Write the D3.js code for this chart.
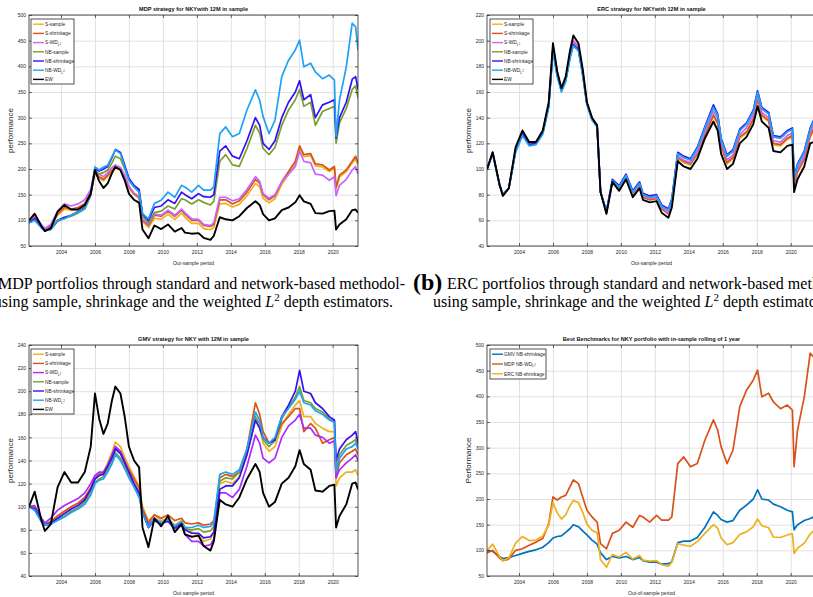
<!DOCTYPE html>
<html>
<head>
<meta charset="utf-8">
<script src="https://cdn.jsdelivr.net/npm/d3@7"></script>
<style>
  body { margin: 0; background: #fff; }
  svg { display: block; }
</style>
</head>
<body>
<div id="chart"></div>
<script>
// sampling dates (decimal years) shared by every series
const dates = [2002.12, 2002.45, 2002.85, 2003.05, 2003.4, 2003.8, 2004.2, 2004.6, 2005.0, 2005.4,
  2005.75, 2006.0, 2006.25, 2006.5, 2006.75, 2007.0, 2007.2, 2007.5, 2007.75, 2008.0,
  2008.3, 2008.6, 2008.8, 2009.15, 2009.5, 2009.9, 2010.3, 2010.7, 2011.1, 2011.3,
  2011.7, 2012.1, 2012.4, 2012.8, 2013.0, 2013.35, 2013.7, 2014.1, 2014.5, 2014.95,
  2015.45, 2015.7, 2015.9, 2016.25, 2016.6, 2017.0, 2017.4, 2017.8, 2018.05, 2018.3,
  2018.7, 2018.98, 2019.4, 2019.8, 2020.1, 2020.2, 2020.4, 2020.8, 2021.15, 2021.35, 2021.49];

const yearTicks = [2004, 2006, 2008, 2010, 2012, 2014, 2016, 2018, 2020];

// equally weighted benchmark (same in MDP, ERC, GMV panels)
const ew = [100, 113, 88, 79, 85, 117, 130, 121, 121, 130,
  152, 198, 176, 163, 172, 192, 204, 198, 178, 152,
  140, 134, 82, 65, 90, 83, 92, 78, 85, 76,
  74, 75, 66, 62, 70, 106, 102, 100, 108, 124,
  137, 130, 112, 100, 104, 120, 125, 135, 149, 137,
  132, 114, 113, 118, 119, 82, 92, 102, 120, 121, 115];

// MDP
const mdpSSample = [96, 107, 89, 82, 87, 110, 122, 120, 122, 130,
  152, 192, 182, 177, 185, 195, 202, 198, 183, 163,
  150, 143, 98, 86, 104, 102, 112, 102, 114, 106,
  94, 94, 84, 82, 86, 132, 133, 126, 131, 148,
  172, 165, 143, 134, 142, 170, 190, 210, 240, 224,
  226, 206, 204, 195, 202, 160, 184, 195, 212, 220, 207];
const mdpSShrink = [97, 108, 90, 82, 88, 112, 125, 122, 125, 133,
  155, 195, 185, 180, 188, 198, 205, 200, 185, 165,
  152, 145, 100, 90, 110, 108, 118, 108, 120, 112,
  100, 100, 90, 88, 92, 140, 140, 132, 138, 155,
  180, 172, 150, 140, 148, 175, 195, 215, 245, 228,
  230, 210, 208, 198, 205, 165, 188, 198, 215, 225, 212];
const mdpSWD = [98, 110, 92, 84, 92, 118, 132, 128, 132, 140,
  160, 198, 190, 185, 193, 203, 208, 203, 188, 167,
  153, 147, 102, 92, 112, 110, 120, 110, 122, 115,
  103, 102, 92, 90, 95, 145, 145, 138, 142, 160,
  185, 176, 152, 143, 150, 175, 190, 205, 235, 215,
  212, 190, 188, 178, 185, 148, 168, 180, 198, 205, 190];
const mdpNBSample = [95, 102, 87, 80, 82, 98, 104, 108, 114, 122,
  148, 195, 190, 193, 198, 212, 225, 220, 200, 178,
  165, 156, 108, 95, 115, 118, 128, 122, 142, 140,
  132, 140, 135, 130, 137, 215, 228, 208, 205, 240,
  285, 270, 240, 228, 242, 285, 315, 335, 355, 322,
  330, 285, 312, 318, 322, 250, 290, 318, 355, 362, 338];
const mdpNBShrink = [95, 103, 88, 80, 83, 100, 106, 110, 117, 125,
  150, 200, 196, 200, 205, 222, 238, 232, 208, 182,
  168, 160, 112, 100, 125, 128, 140, 133, 155, 150,
  142, 152, 146, 145, 150, 235, 245, 225, 220, 255,
  300, 285, 250, 238, 255, 300, 330, 350, 372, 335,
  345, 300, 325, 330, 335, 260, 300, 330, 375, 380, 355];
const mdpNBWD = [95, 100, 85, 80, 83, 100, 103, 110, 116, 123,
  152, 204, 198, 204, 207, 224, 237, 230, 204, 178,
  165, 155, 113, 103, 133, 139, 155, 145, 168, 165,
  155, 168, 159, 159, 165, 269, 282, 263, 269, 315,
  354, 334, 302, 269, 295, 380, 412, 432, 451, 399,
  406, 389, 376, 383, 373, 263, 334, 399, 484, 477, 432];

// ERC
const ercSSample = [100, 113, 88, 80, 85, 115, 128, 120, 121, 129,
  150, 195, 175, 162, 170, 189, 200, 195, 176, 151,
  139, 133, 82, 66, 90, 84, 93, 80, 87, 78,
  76, 77, 69, 65, 73, 108, 105, 103, 111, 126,
  141, 135, 117, 104, 108, 124, 128, 138, 154, 141,
  137, 119, 118, 123, 125, 87, 97, 107, 125, 130, 121];
const ercSShrink = [100, 113, 88, 80, 85, 115, 128, 120, 121, 129,
  150, 195, 175, 162, 170, 189, 200, 195, 176, 151,
  139, 133, 82, 66, 90, 84, 93, 80, 87, 78,
  76, 77, 69, 65, 73, 109, 106, 104, 112, 127,
  142, 136, 118, 105, 109, 125, 129, 139, 155, 142,
  138, 120, 119, 124, 126, 88, 98, 108, 126, 131, 122];
const ercSWD = [100, 113, 88, 80, 85, 115, 128, 120, 120, 129,
  150, 195, 174, 162, 170, 189, 200, 195, 176, 151,
  139, 133, 82, 66, 90, 85, 94, 81, 88, 79,
  77, 78, 70, 66, 74, 110, 107, 105, 113, 129,
  145, 139, 120, 107, 111, 127, 132, 142, 157, 144,
  140, 122, 121, 126, 128, 90, 100, 110, 128, 134, 124];
const ercNBSample = [100, 112, 88, 80, 85, 114, 127, 119, 120, 128,
  149, 193, 173, 161, 169, 187, 197, 193, 174, 151,
  139, 133, 82, 67, 91, 86, 95, 82, 89, 80,
  78, 79, 71, 68, 76, 112, 109, 107, 116, 132,
  148, 142, 123, 110, 114, 130, 135, 145, 160, 147,
  143, 125, 124, 129, 131, 93, 103, 113, 131, 137, 127];
const ercNBShrink = [100, 112, 88, 80, 85, 114, 127, 119, 120, 128,
  149, 193, 173, 161, 169, 187, 197, 193, 174, 151,
  139, 134, 82, 67, 92, 87, 96, 83, 90, 81,
  79, 80, 72, 69, 77, 113, 110, 108, 117, 133,
  150, 143, 124, 111, 115, 131, 136, 146, 161, 148,
  144, 126, 125, 130, 132, 94, 104, 114, 132, 138, 128];
const ercNBWD = [100, 112, 88, 80, 85, 113, 126, 118, 119, 127,
  148, 192, 172, 160, 168, 186, 196, 192, 173, 150,
  138, 133, 82, 67, 91, 86, 95, 82, 89, 80,
  78, 79, 71, 68, 76, 112, 109, 107, 116, 132,
  148, 142, 123, 110, 114, 130, 135, 145, 160, 147,
  143, 125, 124, 129, 131, 93, 103, 113, 131, 137, 127];

// GMV
const gmvSSample = [100, 99, 89, 85, 87, 92, 96, 100, 103, 108,
  117, 125, 129, 130, 138, 147, 156, 152, 143, 135,
  126, 118, 100, 88, 93, 88, 90, 84, 88, 82,
  78, 75, 70, 72, 78, 120, 122, 120, 126, 145,
  175, 168, 155, 148, 152, 170, 180, 188, 192, 178,
  178, 172, 168, 165, 165, 118, 125, 130, 130, 132, 127];
const gmvSShrink = [100, 99, 89, 85, 87, 92, 96, 100, 103, 108,
  116, 124, 128, 129, 136, 144, 152, 148, 140, 132,
  124, 116, 98, 86, 93, 90, 93, 88, 90, 86,
  85, 86, 84, 85, 88, 125, 128, 126, 130, 150,
  190, 180, 165, 155, 158, 172, 178, 185, 185, 165,
  172, 168, 155, 158, 160, 125, 138, 145, 148, 150, 145];
const gmvSWD = [100, 101, 90, 86, 90, 97, 101, 104, 107, 112,
  120, 127, 130, 130, 136, 145, 152, 148, 139, 130,
  120, 112, 95, 84, 90, 86, 87, 81, 84, 76,
  70, 70, 66, 67, 72, 112, 112, 108, 115, 135,
  162, 155, 142, 138, 142, 160, 170, 175, 180, 168,
  168, 162, 160, 155, 157, 125, 132, 138, 142, 145, 140];
const gmvNBSample = [100, 97, 87, 84, 85, 89, 92, 96, 99, 104,
  112, 121, 124, 126, 132, 139, 147, 142, 135, 127,
  118, 110, 95, 82, 89, 86, 89, 83, 87, 81,
  80, 81, 78, 79, 83, 122, 125, 124, 130, 148,
  178, 172, 158, 152, 157, 176, 186, 195, 204, 192,
  190, 185, 182, 176, 174, 135, 145, 153, 156, 158, 152];
const gmvNBShrink = [100, 98, 88, 84, 86, 90, 94, 98, 101, 106,
  115, 124, 127, 128, 135, 142, 150, 146, 138, 130,
  120, 112, 95, 82, 88, 85, 88, 82, 86, 80,
  77, 77, 73, 74, 78, 115, 118, 118, 125, 145,
  175, 168, 160, 155, 158, 178, 188, 200, 218, 200,
  198, 190, 185, 178, 175, 140, 150, 158, 162, 165, 155];
const gmvNBWD = [100, 97, 87, 84, 85, 88, 91, 95, 98, 102,
  110, 120, 123, 124, 130, 137, 145, 140, 133, 125,
  117, 108, 95, 82, 90, 86, 89, 83, 87, 82,
  82, 84, 82, 83, 86, 128, 130, 128, 132, 150,
  182, 175, 160, 155, 160, 178, 185, 193, 200, 190,
  188, 183, 180, 175, 173, 130, 142, 150, 152, 155, 150];

const seriesNames = ['S-sample', 'S-shrinkage', 'S-WD_L2', 'NB-sample', 'NB-shrinkage', 'NB-WD_L2', 'EW'];
const bestNames = ['GMV NB-shrinkage', 'MDP NB-WD_L2', 'ERC NB-shrinkage'];

const colors = {
  ssample: '#edb120', sshrink: '#d95319', swd: '#c766ff', swdGmv: '#a92bff',
  nbsample: '#77a02c', nbshrink: '#3410f5', nbwd: '#1fa2f4', ew: '#000000',
  gmv: '#0072bd', mdp: '#d95319', erc: '#edb120'
};

const xDomain = [2002.115, 2021.49];
const fontSans = '"Liberation Sans", Arial, Helvetica, sans-serif';
const ink = '#262626';

const svg = d3.select('#chart').append('svg')
  .attr('width', 813)
  .attr('height', 597)
  .attr('font-family', fontSans);

svg.append('rect').attr('width', 813).attr('height', 597).attr('fill', '#fff');

function legendLabel(sel, name, size) {
  if (name.endsWith('_L2')) {
    sel.append('tspan').text(name.slice(0, -3));
    sel.append('tspan').attr('dy', size * 0.35).attr('font-size', size * 0.75).text('L');
    sel.append('tspan').attr('dy', -size * 0.25).attr('font-size', size * 0.55).text('2');
  } else {
    sel.text(name);
  }
}

const panels = [
  {
    id: 'a', left: 29, top: 15, width: 329, height: 231,
    yMin: 50, yMax: 500, yStep: 50,
    title: 'MDP strategy for NKYwith 12M in sample',
    ylabel: 'performance', xlabel: 'Out-sample period',
    legend: { x: 31, y: 19, w: 43, h: 65, rows: 9.2 },
    series: [
      [seriesNames[0], mdpSSample, colors.ssample],
      [seriesNames[1], mdpSShrink, colors.sshrink],
      [seriesNames[2], mdpSWD, colors.swd],
      [seriesNames[3], mdpNBSample, colors.nbsample],
      [seriesNames[4], mdpNBShrink, colors.nbshrink],
      [seriesNames[5], mdpNBWD, colors.nbwd],
      [seriesNames[6], ew, colors.ew]
    ]
  },
  {
    id: 'b', left: 487, top: 15, width: 329, height: 231,
    yMin: 40, yMax: 220, yStep: 20,
    title: 'ERC strategy for NKYwith 12M in sample',
    ylabel: 'performance', xlabel: 'Out-sample period',
    legend: { x: 490, y: 19, w: 43, h: 65, rows: 9.2 },
    series: [
      [seriesNames[0], ercSSample, colors.ssample],
      [seriesNames[1], ercSShrink, colors.sshrink],
      [seriesNames[2], ercSWD, colors.swd],
      [seriesNames[3], ercNBSample, colors.nbsample],
      [seriesNames[4], ercNBShrink, colors.nbshrink],
      [seriesNames[5], ercNBWD, colors.nbwd],
      [seriesNames[6], ew, colors.ew]
    ]
  },
  {
    id: 'c', left: 29, top: 345, width: 329, height: 231,
    yMin: 40, yMax: 240, yStep: 20,
    title: 'GMV strategy for NKY with 12M in sample',
    ylabel: 'performance', xlabel: 'Out-sample period',
    legend: { x: 31, y: 349, w: 43, h: 65, rows: 9.2 },
    series: [
      [seriesNames[0], gmvSSample, colors.ssample],
      [seriesNames[1], gmvSShrink, colors.sshrink],
      [seriesNames[2], gmvSWD, colors.swdGmv],
      [seriesNames[3], gmvNBSample, colors.nbsample],
      [seriesNames[4], gmvNBShrink, colors.nbshrink],
      [seriesNames[5], gmvNBWD, colors.nbwd],
      [seriesNames[6], ew, colors.ew]
    ]
  },
  {
    id: 'd', left: 487, top: 345, width: 329, height: 231,
    yMin: 50, yMax: 500, yStep: 50,
    title: 'Best Benchmarks for NKY portfolio with in-sample rolling of 1 year',
    ylabel: 'Performance', xlabel: 'Out-of-sample period',
    legend: { x: 490, y: 349, w: 56, h: 30, rows: 9.8 },
    series: [
      [bestNames[0], gmvNBShrink, colors.gmv],
      [bestNames[1], mdpNBWD, colors.mdp],
      [bestNames[2], ercNBShrink, colors.erc]
    ]
  }
];

function drawPanel(p) {
  const x = d3.scaleLinear().domain(xDomain).range([p.left, p.left + p.width]);
  const y = d3.scaleLinear().domain([p.yMin, p.yMax]).range([p.top + p.height, p.top]);
  const yTicks = d3.range(p.yMin, p.yMax + 1, p.yStep);
  const bottom = p.top + p.height;
  const right = p.left + p.width;

  const g = svg.append('g');

  // grid
  g.append('g')
    .attr('transform', `translate(0,${bottom})`)
    .call(d3.axisBottom(x).tickValues(yearTicks).tickSize(-p.height).tickFormat(''))
    .call(s => s.select('.domain').remove())
    .selectAll('line').attr('stroke', '#dedede').attr('stroke-width', 0.9);
  g.append('g')
    .attr('transform', `translate(${p.left},0)`)
    .call(d3.axisLeft(y).tickValues(yTicks).tickSize(-p.width).tickFormat(''))
    .call(s => s.select('.domain').remove())
    .selectAll('line').attr('stroke', '#dedede').attr('stroke-width', 0.9);

  // series
  svg.append('clipPath').attr('id', 'clip-' + p.id)
    .append('rect').attr('x', p.left).attr('y', p.top).attr('width', p.width).attr('height', p.height);

  const line = d3.line()
    .x((d, i) => x(dates[i]))
    .y(d => y(d));

  g.append('g').attr('clip-path', `url(#clip-${p.id})`)
    .selectAll('path')
    .data(p.series)
    .join('path')
    .attr('d', d => line(d[1]))
    .attr('fill', 'none')
    .attr('stroke', d => d[2])
    .attr('stroke-width', d => d[0] === 'EW' ? 1.9 : 1.7)
    .attr('stroke-linejoin', 'round');

  // axes with inward ticks
  const tick = 3;
  const xb = g.append('g').attr('transform', `translate(0,${bottom})`)
    .call(d3.axisBottom(x).tickValues(yearTicks).tickSize(-tick).tickPadding(4).tickFormat(d3.format('d')));
  const xt = g.append('g').attr('transform', `translate(0,${p.top})`)
    .call(d3.axisTop(x).tickValues(yearTicks).tickSize(-tick).tickFormat(''));
  const yl = g.append('g').attr('transform', `translate(${p.left},0)`)
    .call(d3.axisLeft(y).tickValues(yTicks).tickSize(-tick).tickPadding(3));
  const yr = g.append('g').attr('transform', `translate(${right},0)`)
    .call(d3.axisRight(y).tickValues(yTicks).tickSize(-tick).tickFormat(''));
  [xb, xt, yl, yr].forEach(a => {
    a.select('.domain').remove();
    a.selectAll('line').attr('stroke', ink).attr('stroke-width', 0.7);
    a.selectAll('text').attr('font-size', 5).attr('fill', ink).attr('font-family', fontSans);
  });

  g.append('rect')
    .attr('x', p.left).attr('y', p.top)
    .attr('width', p.width).attr('height', p.height)
    .attr('fill', 'none').attr('stroke', ink).attr('stroke-width', 0.8);

  // title and labels
  g.append('text')
    .attr('x', p.left + p.width / 2).attr('y', p.top - 4)
    .attr('text-anchor', 'middle').attr('font-size', 5.6).attr('font-weight', 'bold')
    .attr('fill', '#111').text(p.title);
  g.append('text')
    .attr('x', p.left + p.width / 2).attr('y', bottom + 19)
    .attr('text-anchor', 'middle').attr('font-size', 5).attr('fill', ink)
    .text(p.xlabel);
  g.append('text')
    .attr('transform', `translate(${p.left - 16},${p.top + p.height / 2}) rotate(-90)`)
    .attr('text-anchor', 'middle').attr('font-size', 8).attr('fill', ink)
    .text(p.ylabel);

  // legend
  const L = p.legend;
  const lg = g.append('g');
  lg.append('rect')
    .attr('x', L.x).attr('y', L.y).attr('width', L.w).attr('height', L.h)
    .attr('fill', '#fff').attr('stroke', ink).attr('stroke-width', 0.8);
  const rows = lg.selectAll('.row').data(p.series).join('g').attr('class', 'row')
    .attr('transform', (d, i) => `translate(${L.x},${L.y + 5.2 + i * L.rows})`);
  rows.append('line')
    .attr('x1', 2).attr('x2', 13).attr('y1', 0).attr('y2', 0)
    .attr('stroke', d => d[2]).attr('stroke-width', 1.4);
  rows.append('text')
    .attr('x', 14).attr('y', 1.7)
    .attr('font-size', 4.8).attr('fill', ink)
    .each(function (d) { legendLabel(d3.select(this), d[0], 4.8); });
}

panels.forEach(drawPanel);

// sub-figure captions (cropped at the page edges, as in the source)
const serif = '"Liberation Serif", "Times New Roman", Times, serif';
function captionLine2(x, anchor) {
  const t = svg.append('text')
    .attr('x', x).attr('y', 307).attr('text-anchor', anchor)
    .attr('font-family', serif).attr('font-size', 16).attr('fill', '#000');
  t.append('tspan').text('using sample, shrinkage and the weighted ');
  t.append('tspan').attr('font-style', 'italic').text('L');
  t.append('tspan').attr('dy', -6).attr('font-size', 11).text('2');
  t.append('tspan').attr('dy', 6).text(' depth estimators.');
}

svg.append('text')
  .attr('x', -2).attr('y', 289)
  .attr('font-family', serif).attr('font-size', 16)
  .attr('textLength', 407).attr('lengthAdjust', 'spacing')
  .text('MDP portfolios through standard and network-based methodol-');
captionLine2(393, 'end');

svg.append('text')
  .attr('x', 413).attr('y', 290)
  .attr('font-family', serif).attr('font-size', 24).attr('font-weight', 'bold')
  .text('(b)');
svg.append('text')
  .attr('x', 447).attr('y', 289)
  .attr('font-family', serif).attr('font-size', 16)
  .attr('textLength', 407).attr('lengthAdjust', 'spacing')
  .text('ERC portfolios through standard and network-based methodol-');
captionLine2(433, 'start');
</script>
</body>
</html>
